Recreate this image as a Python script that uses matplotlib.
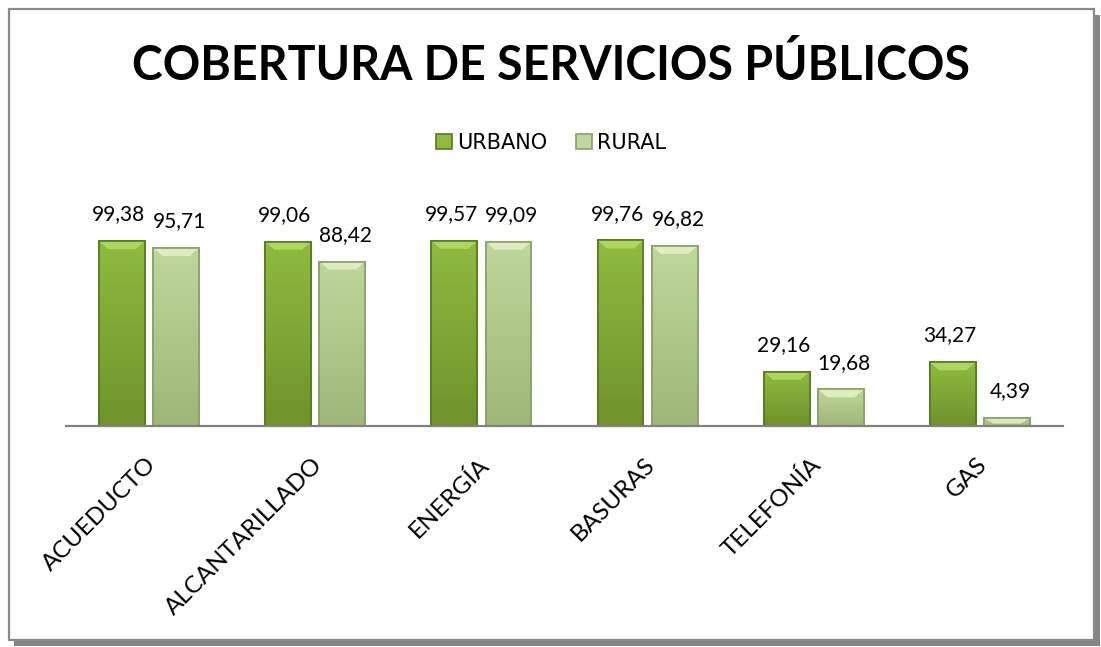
import matplotlib
matplotlib.use("Agg")
import matplotlib.pyplot as plt
from matplotlib.patches import Rectangle, Polygon
from matplotlib.colors import LinearSegmentedColormap
import numpy as np

# ---------------------------------------------------------------------------
# Data
# ---------------------------------------------------------------------------
categories = ["ACUEDUCTO", "ALCANTARILLADO", "ENERGÍA", "BASURAS", "TELEFONÍA", "GAS"]
urbano = [99.38, 99.06, 99.57, 99.76, 29.16, 34.27]
rural = [95.71, 88.42, 99.09, 96.82, 19.68, 4.39]
series_names = ["URBANO", "RURAL"]

title = "COBERTURA DE SERVICIOS PÚBLICOS"

# colours: (face top, face bottom, edge, bevel)
URB = ("#8fbb40", "#6f922b", "#557a1f", "#b4dc68")
RUR = ("#bfd79a", "#9fb679", "#8a9f6a", "#e4f2c6")

W, H = 1101, 647
fig = plt.figure(figsize=(W / 100, H / 100), dpi=100)
fig.patch.set_facecolor("white")

# ---- frame with drop shadow ------------------------------------------------
def px(x, y):
    return x / W, 1 - y / H

sx, sy = px(14, 646)
fig.patches.append(Rectangle((sx, sy), (1100 - 14) / W, (646 - 15) / H,
                             transform=fig.transFigure, facecolor="#858585",
                             edgecolor="none", zorder=0))
fx, fy = px(9, 640)
fig.patches.append(Rectangle((fx, fy), (1094 - 9) / W, (640 - 9) / H,
                             transform=fig.transFigure, facecolor="white",
                             edgecolor="#8a8a8a", linewidth=1.6, zorder=1))

# ---- axes ------------------------------------------------------------------
ax_left, ax_right = 66, 1063
ax_top, ax_bot = 180, 426
ax = fig.add_axes([ax_left / W, 1 - ax_bot / H, (ax_right - ax_left) / W,
                   (ax_bot - ax_top) / H])
ax.set_facecolor("none")
ax.set_zorder(2)

x = np.arange(len(categories))
bw = 0.275
off = 0.163

ylim_top = (ax_bot - ax_top) / ((ax_bot - 240) / 100)
ax.set_ylim(0, ylim_top)
ax.set_xlim(-0.5, len(categories) - 0.5)
unit_px = (ax_bot - 240) / 100  # pixels per data unit


def draw_series(xs, vals, cols, label):
    top_c, bot_c, edge_c, bevel_c = cols
    bars = ax.bar(xs, vals, bw, color=top_c, edgecolor=edge_c, linewidth=1.2,
                  label=label, zorder=3)
    cmap = LinearSegmentedColormap.from_list("g", [bot_c, top_c])
    grad = np.linspace(0, 1, 64).reshape(-1, 1)
    for b, xi, v in zip(bars, xs, vals):
        im = ax.imshow(grad, cmap=cmap, origin="lower", aspect="auto",
                       extent=[xi - bw / 2, xi + bw / 2, 0, v], zorder=3.5,
                       interpolation="bilinear")
        im.set_clip_path(b)
        # top bevel
        bh = min(8 / unit_px, v * 0.7)
        ins = bw * 0.2
        poly = Polygon([(xi - bw / 2, v), (xi + bw / 2, v),
                        (xi + bw / 2 - ins, v - bh), (xi - bw / 2 + ins, v - bh)],
                       closed=True, facecolor=bevel_c, edgecolor="none",
                       alpha=0.85, zorder=3.7)
        ax.add_patch(poly)
        # redraw edge on top
        ax.add_patch(Rectangle((xi - bw / 2, 0), bw, v, facecolor="none",
                               edgecolor=edge_c, linewidth=1.2, zorder=3.8))
    return bars


draw_series(x - off, urbano, URB, series_names[0])
draw_series(x + off, rural, RUR, series_names[1])

lab_font = dict(family="Lato", fontsize=15, color="black")
for xi, v in zip(x - off, urbano):
    ax.text(xi - 0.02, v + 9, f"{v:.2f}".replace(".", ","), ha="center",
            va="bottom", **lab_font)
for xi, v in zip(x + off, rural):
    ax.text(xi + 0.02, v + 9, f"{v:.2f}".replace(".", ","), ha="center",
            va="bottom", **lab_font)

for s in ["top", "right", "left"]:
    ax.spines[s].set_visible(False)
ax.spines["bottom"].set_color("#808080")
ax.spines["bottom"].set_linewidth(1.6)
ax.spines["bottom"].set_zorder(5)
ax.set_yticks([])
ax.set_xticks(x - 0.02)
ax.set_xticklabels(categories, rotation=45, ha="right", va="top",
                   rotation_mode="anchor", family="Lato", fontsize=17.5)
ax.tick_params(axis="x", length=0, pad=20)

# ---- title & legend ------------------------------------------------------
fig.text(0.5, 1 - 66 / H, title, ha="center", va="center", family="Lato",
         fontweight="bold", fontsize=33.5, zorder=5)

leg = ax.legend(loc="center", bbox_to_anchor=(551 / W, 1 - 143 / H),
                bbox_transform=fig.transFigure, ncol=2, frameon=False,
                handlelength=0.75, handleheight=0.75, handletextpad=0.25,
                columnspacing=1.4, prop=dict(family="DejaVu Sans", size=15))

fig.savefig("out.png", dpi=100)
